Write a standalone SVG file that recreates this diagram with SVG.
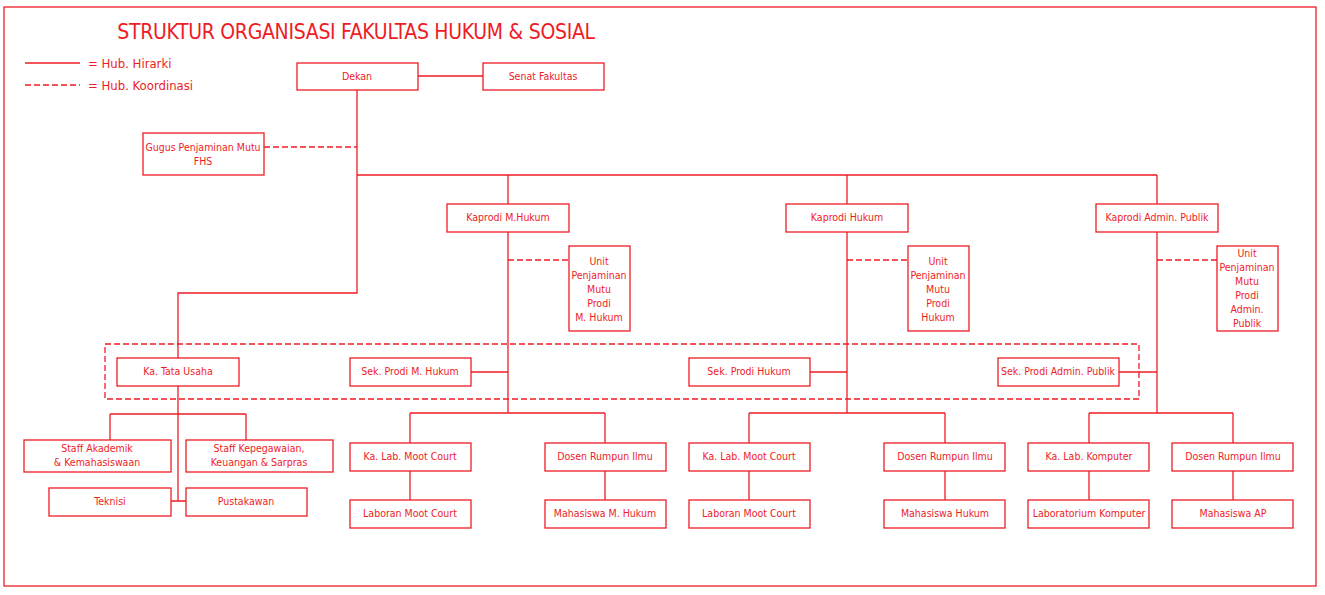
<svg xmlns="http://www.w3.org/2000/svg" width="1325" height="595" viewBox="0 0 1325 595">
<style>
.b{fill:#fff;stroke:#ee1c25;stroke-width:1.3}
.l{stroke:#ee1c25;stroke-width:1.3;fill:none}
.d{stroke:#ee1c25;stroke-width:1.3;fill:none;stroke-dasharray:6,3}
text{font-family:"DejaVu Sans Condensed","DejaVu Sans",sans-serif;font-stretch:condensed;font-size:10.5px;fill:#ee1c25;text-anchor:middle}
</style>
<rect width="1325" height="595" fill="#fff"/>
<rect x="4" y="7" width="1312" height="579" class="l"/>
<text x="356" y="39" style="font-size:21px;letter-spacing:-0.3px">STRUKTUR ORGANISASI FAKULTAS HUKUM &amp; SOSIAL</text>
<line x1="25" y1="63" x2="80" y2="63" class="l"/>
<line x1="25" y1="85" x2="80" y2="85" class="d"/>
<text x="88" y="68" style="font-size:13px;text-anchor:start">= Hub. Hirarki</text>
<text x="88" y="90" style="font-size:13px;text-anchor:start">= Hub. Koordinasi</text>
<g id="connectors">
<path class="l" d="M418 76H483M357 90V293H178V358M357 175H1157M508 175V413M847 175V413M1157 175V413M471 372H508M810 372H847M1119 372H1157"/>
<path class="d" d="M264 147H357M508 260H569M847 260H908M1157 260H1217"/>
<rect class="d" x="105" y="344" width="1034" height="55"/>
<path class="l" d="M178 386V501M110 414H246M110 414V440M246 414V440M171 501H186"/>
<path class="l" d="M410 413H605M410 413V443M605 413V443M410 471V500M605 471V500"/>
<path class="l" d="M749 413H945M749 413V443M945 413V443M749 471V500M945 471V500"/>
<path class="l" d="M1089 413H1233M1089 413V443M1233 413V443M1089 471V500M1233 471V500"/>
</g>
<g id="dekan"><rect class="b" x="297" y="63" width="121" height="27"/><text x="357" y="80">Dekan</text></g>
<g id="senat"><rect class="b" x="483" y="63" width="121" height="27"/><text x="543" y="80">Senat Fakultas</text></g>
<g id="gugus"><rect class="b" x="143" y="133" width="121" height="42"/><text x="203" y="151">Gugus Penjaminan Mutu</text><text x="203" y="165">FHS</text></g>
<g id="kp1"><rect class="b" x="447" y="204" width="122" height="28"/><text x="508" y="221">Kaprodi M.Hukum</text></g>
<g id="kp2"><rect class="b" x="786" y="204" width="122" height="28"/><text x="847" y="221">Kaprodi Hukum</text></g>
<g id="kp3"><rect class="b" x="1096" y="204" width="122" height="28"/><text x="1157" y="221">Kaprodi Admin. Publik</text></g>
<g id="u1"><rect class="b" x="569" y="246" width="61" height="85"/><text x="599" y="265">Unit</text><text x="599" y="279">Penjaminan</text><text x="599" y="293">Mutu</text><text x="599" y="307">Prodi</text><text x="599" y="321">M. Hukum</text></g>
<g id="u2"><rect class="b" x="908" y="246" width="61" height="85"/><text x="938" y="265">Unit</text><text x="938" y="279">Penjaminan</text><text x="938" y="293">Mutu</text><text x="938" y="307">Prodi</text><text x="938" y="321">Hukum</text></g>
<g id="u3"><rect class="b" x="1217" y="246" width="61" height="85"/><text x="1247" y="257">Unit</text><text x="1247" y="271">Penjaminan</text><text x="1247" y="285">Mutu</text><text x="1247" y="299">Prodi</text><text x="1247" y="313">Admin.</text><text x="1247" y="327">Publik</text></g>
<g id="tu"><rect class="b" x="117" y="358" width="122" height="28"/><text x="178" y="375">Ka. Tata Usaha</text></g>
<g id="s1"><rect class="b" x="350" y="358" width="121" height="28"/><text x="410" y="375">Sek. Prodi M. Hukum</text></g>
<g id="s2"><rect class="b" x="689" y="358" width="121" height="28"/><text x="749" y="375">Sek. Prodi Hukum</text></g>
<g id="s3"><rect class="b" x="998" y="358" width="121" height="28"/><text x="1058" y="375">Sek. Prodi Admin. Publik</text></g>
<g id="sa"><rect class="b" x="24" y="440" width="147" height="32"/><text x="97" y="452">Staff Akademik</text><text x="97" y="466">&amp; Kemahasiswaan</text></g>
<g id="sk"><rect class="b" x="186" y="440" width="147" height="32"/><text x="259" y="452">Staff Kepegawaian,</text><text x="259" y="466">Keuangan &amp; Sarpras</text></g>
<g id="tek"><rect class="b" x="49" y="488" width="122" height="28"/><text x="110" y="505">Teknisi</text></g>
<g id="pus"><rect class="b" x="186" y="488" width="121" height="28"/><text x="246" y="505">Pustakawan</text></g>
<g id="l1"><rect class="b" x="350" y="443" width="121" height="28"/><text x="410" y="460">Ka. Lab. Moot Court</text></g>
<g id="d1"><rect class="b" x="545" y="443" width="121" height="28"/><text x="605" y="460">Dosen Rumpun Ilmu</text></g>
<g id="lb1"><rect class="b" x="350" y="500" width="121" height="28"/><text x="410" y="517">Laboran Moot Court</text></g>
<g id="m1"><rect class="b" x="545" y="500" width="121" height="28"/><text x="605" y="517">Mahasiswa M. Hukum</text></g>
<g id="l2"><rect class="b" x="689" y="443" width="121" height="28"/><text x="749" y="460">Ka. Lab. Moot Court</text></g>
<g id="d2"><rect class="b" x="884" y="443" width="121" height="28"/><text x="945" y="460">Dosen Rumpun Ilmu</text></g>
<g id="lb2"><rect class="b" x="689" y="500" width="121" height="28"/><text x="749" y="517">Laboran Moot Court</text></g>
<g id="m2"><rect class="b" x="884" y="500" width="121" height="28"/><text x="945" y="517">Mahasiswa Hukum</text></g>
<g id="l3"><rect class="b" x="1028" y="443" width="121" height="28"/><text x="1089" y="460">Ka. Lab. Komputer</text></g>
<g id="d3"><rect class="b" x="1172" y="443" width="121" height="28"/><text x="1233" y="460">Dosen Rumpun Ilmu</text></g>
<g id="lb3"><rect class="b" x="1028" y="500" width="121" height="28"/><text x="1089" y="517">Laboratorium Komputer</text></g>
<g id="m3"><rect class="b" x="1172" y="500" width="121" height="28"/><text x="1233" y="517">Mahasiswa AP</text></g>
</svg>
